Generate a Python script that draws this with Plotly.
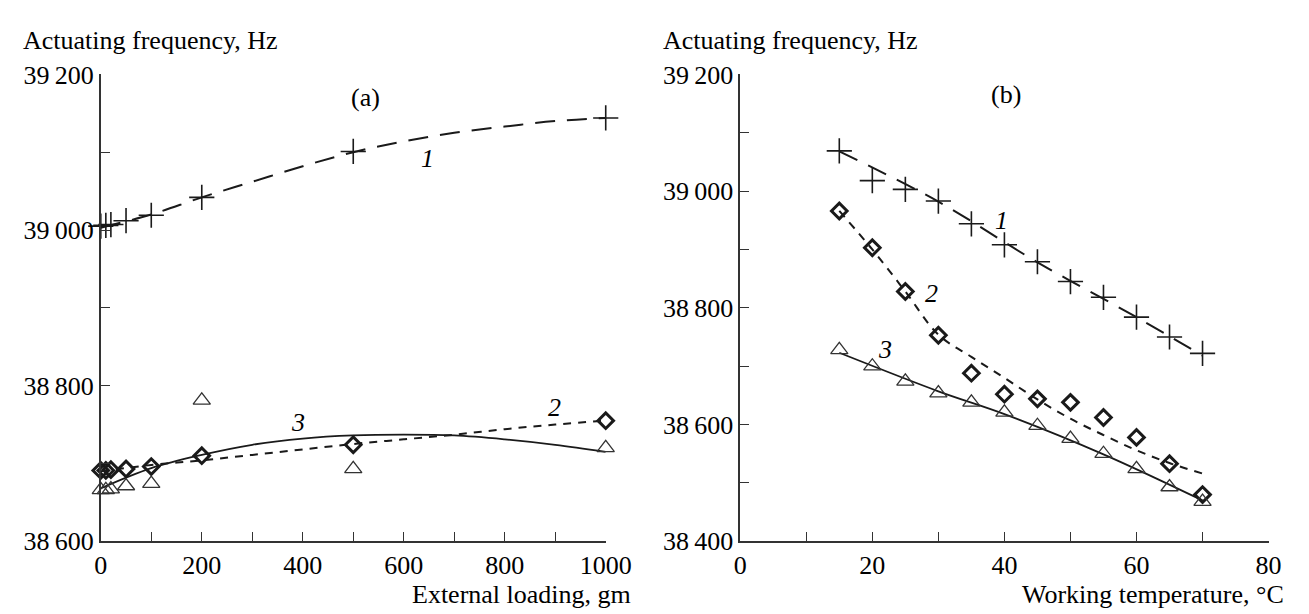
import plotly.graph_objects as go

W, H = 1309, 614

# ---------------- Panel (a): external loading ----------------
load_gm = [0, 10, 20, 50, 100, 200, 500, 1000]
a_s1 = [39005, 39006, 39007, 39012, 39019, 39042, 39101, 39144]
a_s2 = [38691, 38691, 38692, 38693, 38696, 38710, 38724, 38755]
a_s3 = [38666, 38666, 38667, 38671, 38674, 38781, 38693, 38720]

a_fit_x = [0, 100, 200, 300, 400, 500, 600, 700, 800, 900, 1000]
a_fit1 = [39003, 39020, 39042, 39062, 39082, 39100, 39114, 39125, 39133, 39140, 39144]
a_fit2 = [38690, 38698, 38704, 38711, 38718, 38725, 38731, 38737, 38744, 38750, 38755]
a_fit3 = [38668, 38694, 38711, 38724, 38732, 38736, 38737, 38736, 38731, 38724, 38715]

# ---------------- Panel (b): working temperature ----------------
temp_c = [15, 20, 25, 30, 35, 40, 45, 50, 55, 60, 65, 70]
b_s1 = [39069, 39018, 39003, 38983, 38944, 38908, 38879, 38845, 38818, 38784, 38750, 38722]
b_s2 = [38966, 38903, 38828, 38753, 38688, 38652, 38644, 38638, 38612, 38578, 38533, 38480]
b_s3 = [38728, 38700, 38674, 38654, 38638, 38621, 38598, 38576, 38550, 38524, 38493, 38468]

b_fit1_x = [15, 30, 45, 60, 70]
b_fit1 = [39068, 38982, 38878, 38784, 38718]
b_fit2_x = [15, 20, 25, 30, 35, 40, 45, 50, 55, 60, 65, 70]
b_fit2 = [38966, 38900, 38828, 38754, 38716, 38680, 38643, 38610, 38582, 38556, 38534, 38516]
b_fit3_x = [15, 30, 40, 55, 70]
b_fit3 = [38723, 38657, 38618, 38549, 38470]

a_yticks = [38600, 38800, 39000, 39200]
b_yticks = [38400, 38600, 38800, 39000, 39200]
a_xticks = [0, 200, 400, 600, 800, 1000]
b_xticks = [0, 20, 40, 60, 80]

INK = "#1a1a1a"
AX = "#333"
FONT = "Liberation Serif"
FS = 26


def lab(v):
    s = str(v)
    return s[:-3] + "\u2009" + s[-3:] if len(s) > 3 else s


fig = go.Figure()


def add_panel(xs, s1, s2, s3, fx1, f1, fx2, f2, fx3, f3, xa, ya):
    fig.add_trace(go.Scatter(x=fx1, y=f1, mode="lines", line=dict(color=INK, width=2, dash="20px,12px", shape="spline"),
                             xaxis=xa, yaxis=ya, showlegend=False))
    fig.add_trace(go.Scatter(x=fx2, y=f2, mode="lines", line=dict(color=INK, width=2, dash="8px,7px", shape="spline"),
                             xaxis=xa, yaxis=ya, showlegend=False))
    fig.add_trace(go.Scatter(x=fx3, y=f3, mode="lines", line=dict(color=INK, width=1.8, shape="spline"),
                             xaxis=xa, yaxis=ya, showlegend=False))
    fig.add_trace(go.Scatter(x=xs, y=s1, mode="markers",
                             marker=dict(symbol="cross-thin", size=18, line=dict(color=INK, width=1.6)),
                             xaxis=xa, yaxis=ya, showlegend=False, cliponaxis=False))
    fig.add_trace(go.Scatter(x=xs, y=s2, mode="markers",
                             marker=dict(symbol="diamond-open", size=12, color=INK, line=dict(color=INK, width=3)),
                             xaxis=xa, yaxis=ya, showlegend=False, cliponaxis=False))
    fig.add_trace(go.Scatter(x=xs, y=s3, mode="markers",
                             marker=dict(symbol="triangle-up-open", size=15, color=AX, line=dict(color=AX, width=1.3)),
                             xaxis=xa, yaxis=ya, showlegend=False, cliponaxis=False))


add_panel(load_gm, a_s1, a_s2, a_s3, a_fit_x, a_fit1, a_fit_x, a_fit2, a_fit_x, a_fit3, "x", "y")
add_panel(temp_c, b_s1, b_s2, b_s3, b_fit1_x, b_fit1, b_fit2_x, b_fit2, b_fit3_x, b_fit3, "x2", "y2")

ydom = [(H - 545) / H, (H - 55) / H]
minor_style = dict(ticks="inside", ticklen=9, tickwidth=1.4, tickcolor=AX)
axis_common = dict(showline=True, linecolor=AX, linewidth=1.6, showgrid=False, zeroline=False,
                   ticks="inside", ticklen=9, tickwidth=1.4, tickcolor=AX,
                   tickfont=dict(family=FONT, size=FS, color="black"), mirror=False)

fig.update_layout(
    width=W, height=H, margin=dict(l=0, r=0, t=0, b=0),
    plot_bgcolor="white", paper_bgcolor="white",
    xaxis=dict(domain=[88 / W, 606 / W], range=[0, 1000], tickvals=a_xticks, ticktext=[str(v) for v in a_xticks],
               minor=dict(dtick=100, **minor_style), anchor="y", **axis_common),
    yaxis=dict(domain=ydom, range=[38600, 39200], tickvals=a_yticks, ticktext=[lab(v) for v in a_yticks],
               minor=dict(dtick=100, **minor_style), anchor="x", **axis_common),
    xaxis2=dict(domain=[744 / W, 1286 / W], range=[0, 80], tickvals=b_xticks, ticktext=[str(v) for v in b_xticks],
                minor=dict(dtick=10, **minor_style), anchor="y2", **axis_common),
    yaxis2=dict(domain=ydom, range=[38400, 39200], tickvals=b_yticks, ticktext=[lab(v) for v in b_yticks],
                minor=dict(dtick=100, **minor_style), anchor="x2", **axis_common),
)

tf = dict(family=FONT, size=FS, color="black")
ttl = dict(family=FONT, size=26, color="black")
ann = [
    dict(text="Actuating frequency, Hz", xref="paper", yref="paper", x=6 / W, y=1 - 19 / H, xanchor="left", yanchor="middle", font=ttl, showarrow=False),
    dict(text="Actuating frequency, Hz", xref="paper", yref="paper", x=663 / W, y=1 - 19 / H, xanchor="left", yanchor="middle", font=ttl, showarrow=False),
    dict(text="External loading, gm", xref="paper", yref="paper", x=634 / W, y=1 - 601 / H, xanchor="right", yanchor="middle", font=ttl, showarrow=False),
    dict(text="Working temperature, °C", xref="paper", yref="paper", x=1304 / W, y=1 - 601 / H, xanchor="right", yanchor="middle", font=ttl, showarrow=False),
    dict(text="(a)", xref="x", yref="y", x=525, y=39170, font=tf, showarrow=False),
    dict(text="(b)", xref="x2", yref="y2", x=40.2, y=39165, font=tf, showarrow=False),
    dict(text="<i>1</i>", xref="x", yref="y", x=647, y=39092, font=tf, showarrow=False),
    dict(text="<i>2</i>", xref="x", yref="y", x=898, y=38772, font=tf, showarrow=False),
    dict(text="<i>3</i>", xref="x", yref="y", x=390, y=38752, font=tf, showarrow=False),
    dict(text="<i>1</i>", xref="x2", yref="y2", x=39.5, y=38949, font=tf, showarrow=False),
    dict(text="<i>2</i>", xref="x2", yref="y2", x=29, y=38825, font=tf, showarrow=False),
    dict(text="<i>3</i>", xref="x2", yref="y2", x=21.9, y=38728, font=tf, showarrow=False),
]
fig.update_layout(annotations=ann)

fig.write_html("out.html")
